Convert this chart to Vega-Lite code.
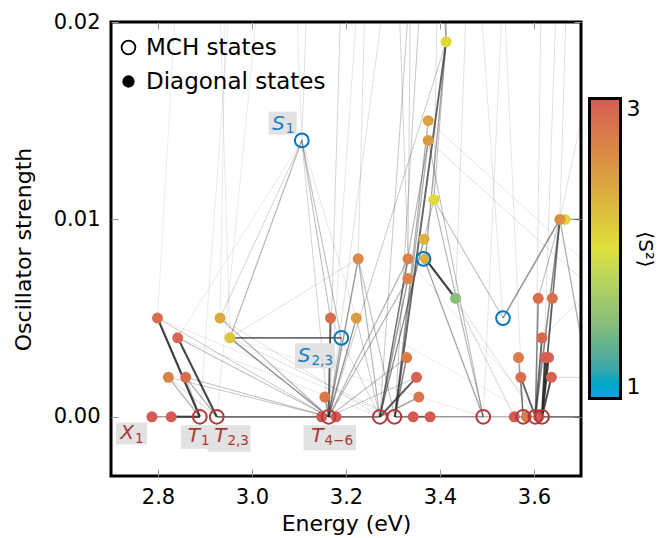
{
  "$schema": "https://vega.github.io/schema/vega-lite/v6.json",
  "width": 470,
  "height": 454,
  "autosize": {"type": "none"},
  "padding": {"left": 111, "top": 22, "right": 79, "bottom": 62},
  "background": "white",
  "config": {
    "font": "DejaVu Sans",
    "view": {"stroke": "black", "strokeWidth": 3},
    "axis": {"grid": false, "domain": false, "tickColor": "#999999", "tickWidth": 1, "tickSize": -7, "labelFontSize": 21, "labelColor": "black", "titleFontSize": 22, "titleFontWeight": "normal", "titleColor": "black", "labelFont": "DejaVu Sans", "titleFont": "DejaVu Sans"}
  },
  "datasets": {
    "edges": [
      {"E1": 2.889, "f1": 0, "E2": 2.828, "f2": 0, "c": 1.0},
      {"E1": 2.828, "f1": 0, "E2": 2.787, "f2": 0, "c": 0.5},
      {"E1": 2.889, "f1": 0, "E2": 2.799, "f2": 0.005, "c": 1.0},
      {"E1": 2.925, "f1": 0, "E2": 2.842, "f2": 0.004, "c": 0.95},
      {"E1": 2.889, "f1": 0, "E2": 2.822, "f2": 0.002, "c": 0.4},
      {"E1": 2.925, "f1": 0, "E2": 2.859, "f2": 0.002, "c": 0.4},
      {"E1": 2.925, "f1": 0, "E2": 2.822, "f2": 0.002, "c": 0.2},
      {"E1": 2.889, "f1": 0, "E2": 2.859, "f2": 0.002, "c": 0.25},
      {"E1": 2.925, "f1": 0, "E2": 3.148, "f2": 0, "c": 0.75},
      {"E1": 3.19, "f1": 0.004, "E2": 2.953, "f2": 0.004, "c": 0.75},
      {"E1": 3.163, "f1": 0, "E2": 3.167, "f2": 0.005, "c": 0.8},
      {"E1": 3.163, "f1": 0, "E2": 2.953, "f2": 0.004, "c": 0.55},
      {"E1": 3.163, "f1": 0, "E2": 2.932, "f2": 0.005, "c": 0.35},
      {"E1": 3.163, "f1": 0, "E2": 2.842, "f2": 0.004, "c": 0.3},
      {"E1": 3.163, "f1": 0, "E2": 2.799, "f2": 0.005, "c": 0.25},
      {"E1": 3.163, "f1": 0, "E2": 2.859, "f2": 0.002, "c": 0.3},
      {"E1": 3.163, "f1": 0, "E2": 2.822, "f2": 0.002, "c": 0.25},
      {"E1": 3.163, "f1": 0, "E2": 3.155, "f2": 0.001, "c": 0.5},
      {"E1": 3.106, "f1": 0.014, "E2": 2.953, "f2": 0.004, "c": 0.35},
      {"E1": 3.106, "f1": 0.014, "E2": 2.932, "f2": 0.005, "c": 0.2},
      {"E1": 3.106, "f1": 0.014, "E2": 3.167, "f2": 0.005, "c": 0.3},
      {"E1": 3.106, "f1": 0.014, "E2": 3.19, "f2": 0.004, "c": 0.3},
      {"E1": 3.106, "f1": 0.014, "E2": 3.163, "f2": 0, "c": 0.2},
      {"E1": 3.106, "f1": 0.014, "E2": 3.222, "f2": 0.005, "c": 0.12},
      {"E1": 3.106, "f1": 0.014, "E2": 2.842, "f2": 0.004, "c": 0.1},
      {"E1": 3.106, "f1": 0.014, "E2": 3.13, "f2": 0.03, "c": 0.15},
      {"E1": 3.106, "f1": 0.014, "E2": 3.08, "f2": 0.03, "c": 0.1},
      {"E1": 3.163, "f1": 0, "E2": 3.226, "f2": 0.008, "c": 0.5},
      {"E1": 3.163, "f1": 0, "E2": 3.222, "f2": 0.005, "c": 0.35},
      {"E1": 3.163, "f1": 0, "E2": 3.332, "f2": 0.008, "c": 0.35},
      {"E1": 3.163, "f1": 0, "E2": 3.332, "f2": 0.007, "c": 0.35},
      {"E1": 3.163, "f1": 0, "E2": 3.329, "f2": 0.003, "c": 0.3},
      {"E1": 3.163, "f1": 0, "E2": 3.272, "f2": 0, "c": 0.7},
      {"E1": 3.163, "f1": 0, "E2": 3.35, "f2": 0.002, "c": 0.25},
      {"E1": 3.163, "f1": 0, "E2": 3.413, "f2": 0.019, "c": 0.25},
      {"E1": 3.163, "f1": 0, "E2": 3.2, "f2": 0.03, "c": 0.2},
      {"E1": 3.163, "f1": 0, "E2": 3.25, "f2": 0.03, "c": 0.12},
      {"E1": 3.19, "f1": 0.004, "E2": 3.163, "f2": 0, "c": 0.4},
      {"E1": 3.272, "f1": 0, "E2": 3.35, "f2": 0.002, "c": 0.85},
      {"E1": 3.272, "f1": 0, "E2": 3.355, "f2": 0.001, "c": 0.5},
      {"E1": 3.304, "f1": 0, "E2": 3.329, "f2": 0.003, "c": 0.6},
      {"E1": 3.304, "f1": 0, "E2": 3.343, "f2": 0, "c": 0.7},
      {"E1": 3.379, "f1": 0, "E2": 3.343, "f2": 0, "c": 0.8},
      {"E1": 3.272, "f1": 0, "E2": 3.332, "f2": 0.008, "c": 0.55},
      {"E1": 3.272, "f1": 0, "E2": 3.332, "f2": 0.007, "c": 0.5},
      {"E1": 3.304, "f1": 0, "E2": 3.413, "f2": 0.019, "c": 0.8},
      {"E1": 3.272, "f1": 0, "E2": 3.366, "f2": 0.009, "c": 0.4},
      {"E1": 3.304, "f1": 0, "E2": 3.375, "f2": 0.015, "c": 0.4},
      {"E1": 3.304, "f1": 0, "E2": 3.375, "f2": 0.014, "c": 0.4},
      {"E1": 3.272, "f1": 0, "E2": 3.375, "f2": 0.014, "c": 0.35},
      {"E1": 3.272, "f1": 0, "E2": 3.387, "f2": 0.011, "c": 0.3},
      {"E1": 3.272, "f1": 0, "E2": 2.932, "f2": 0.005, "c": 0.15},
      {"E1": 3.304, "f1": 0, "E2": 2.953, "f2": 0.004, "c": 0.15},
      {"E1": 3.272, "f1": 0, "E2": 2.842, "f2": 0.004, "c": 0.1},
      {"E1": 3.304, "f1": 0, "E2": 2.799, "f2": 0.005, "c": 0.1},
      {"E1": 3.272, "f1": 0, "E2": 3.226, "f2": 0.008, "c": 0.35},
      {"E1": 3.304, "f1": 0, "E2": 3.226, "f2": 0.008, "c": 0.3},
      {"E1": 3.272, "f1": 0, "E2": 3.222, "f2": 0.005, "c": 0.25},
      {"E1": 3.272, "f1": 0, "E2": 3.167, "f2": 0.005, "c": 0.2},
      {"E1": 3.369, "f1": 0.008, "E2": 3.433, "f2": 0.006, "c": 1.0},
      {"E1": 3.413, "f1": 0.019, "E2": 3.369, "f2": 0.008, "c": 0.45},
      {"E1": 3.413, "f1": 0.019, "E2": 3.387, "f2": 0.011, "c": 0.3},
      {"E1": 3.413, "f1": 0.019, "E2": 3.41, "f2": 0.03, "c": 0.4},
      {"E1": 3.413, "f1": 0.019, "E2": 3.38, "f2": 0.03, "c": 0.3},
      {"E1": 3.387, "f1": 0.011, "E2": 3.492, "f2": 0, "c": 0.35},
      {"E1": 3.375, "f1": 0.014, "E2": 3.492, "f2": 0, "c": 0.3},
      {"E1": 3.366, "f1": 0.008, "E2": 3.492, "f2": 0, "c": 0.45},
      {"E1": 3.375, "f1": 0.014, "E2": 3.7, "f2": 0.007, "c": 0.15},
      {"E1": 3.375, "f1": 0.015, "E2": 3.7, "f2": 0.008, "c": 0.12},
      {"E1": 3.433, "f1": 0.006, "E2": 3.47, "f2": 0.03, "c": 0.15},
      {"E1": 3.433, "f1": 0.006, "E2": 3.558, "f2": 0, "c": 0.2},
      {"E1": 3.492, "f1": 0, "E2": 3.379, "f2": 0, "c": 0.5},
      {"E1": 3.492, "f1": 0, "E2": 3.558, "f2": 0, "c": 0.4},
      {"E1": 3.492, "f1": 0, "E2": 2.953, "f2": 0.004, "c": 0.08},
      {"E1": 3.492, "f1": 0, "E2": 3.55, "f2": 0.03, "c": 0.12},
      {"E1": 3.534, "f1": 0.005, "E2": 3.655, "f2": 0.01, "c": 0.55},
      {"E1": 3.534, "f1": 0.005, "E2": 3.387, "f2": 0.011, "c": 0.3},
      {"E1": 3.534, "f1": 0.005, "E2": 3.46, "f2": 0.03, "c": 0.12},
      {"E1": 3.603, "f1": 0, "E2": 3.572, "f2": 0.002, "c": 0.8},
      {"E1": 3.603, "f1": 0, "E2": 3.609, "f2": 0.006, "c": 0.6},
      {"E1": 3.603, "f1": 0, "E2": 3.617, "f2": 0.004, "c": 0.8},
      {"E1": 3.617, "f1": 0, "E2": 3.624, "f2": 0.003, "c": 1.0},
      {"E1": 3.617, "f1": 0, "E2": 3.631, "f2": 0.003, "c": 1.0},
      {"E1": 3.617, "f1": 0, "E2": 3.637, "f2": 0.002, "c": 0.9},
      {"E1": 3.617, "f1": 0, "E2": 3.639, "f2": 0.006, "c": 0.6},
      {"E1": 3.577, "f1": 0, "E2": 3.567, "f2": 0.003, "c": 0.5},
      {"E1": 3.577, "f1": 0, "E2": 3.572, "f2": 0.002, "c": 0.4},
      {"E1": 3.603, "f1": 0, "E2": 3.655, "f2": 0.01, "c": 0.6},
      {"E1": 3.617, "f1": 0, "E2": 3.655, "f2": 0.01, "c": 0.6},
      {"E1": 3.617, "f1": 0, "E2": 3.7, "f2": 0, "c": 0.7},
      {"E1": 3.558, "f1": 0, "E2": 3.603, "f2": 0, "c": 0.5},
      {"E1": 3.655, "f1": 0.01, "E2": 3.7, "f2": 0.004, "c": 0.4},
      {"E1": 3.655, "f1": 0.01, "E2": 3.7, "f2": 0.01, "c": 0.5},
      {"E1": 3.603, "f1": 0, "E2": 3.433, "f2": 0.006, "c": 0.15},
      {"E1": 3.603, "f1": 0, "E2": 3.222, "f2": 0.005, "c": 0.08},
      {"E1": 3.617, "f1": 0, "E2": 3.332, "f2": 0.008, "c": 0.1},
      {"E1": 3.603, "f1": 0, "E2": 3.62, "f2": 0.03, "c": 0.15},
      {"E1": 3.617, "f1": 0, "E2": 3.66, "f2": 0.03, "c": 0.15},
      {"E1": 3.655, "f1": 0.01, "E2": 3.68, "f2": 0.03, "c": 0.15},
      {"E1": 3.577, "f1": 0, "E2": 3.52, "f2": 0.03, "c": 0.12},
      {"E1": 2.889, "f1": 0, "E2": 2.98, "f2": 0.03, "c": 0.1},
      {"E1": 2.925, "f1": 0, "E2": 3.05, "f2": 0.03, "c": 0.1},
      {"E1": 2.953, "f1": 0.004, "E2": 2.92, "f2": 0.03, "c": 0.1},
      {"E1": 2.799, "f1": 0.005, "E2": 2.86, "f2": 0.03, "c": 0.08},
      {"E1": 3.226, "f1": 0.008, "E2": 3.25, "f2": 0.03, "c": 0.15},
      {"E1": 3.332, "f1": 0.008, "E2": 3.34, "f2": 0.03, "c": 0.2},
      {"E1": 3.332, "f1": 0.008, "E2": 3.3, "f2": 0.03, "c": 0.2},
      {"E1": 3.387, "f1": 0.011, "E2": 3.4, "f2": 0.03, "c": 0.15},
      {"E1": 3.272, "f1": 0, "E2": 3.36, "f2": 0.03, "c": 0.25},
      {"E1": 3.304, "f1": 0, "E2": 3.38, "f2": 0.03, "c": 0.25},
      {"E1": 3.163, "f1": 0, "E2": 3.33, "f2": 0.03, "c": 0.15},
      {"E1": 3.222, "f1": 0.005, "E2": 3.163, "f2": 0, "c": 0.3},
      {"E1": 3.226, "f1": 0.008, "E2": 2.953, "f2": 0.004, "c": 0.15},
      {"E1": 2.932, "f1": 0.005, "E2": 2.95, "f2": 0.03, "c": 0.1},
      {"E1": 3.7, "f1": 0.015, "E2": 3.655, "f2": 0.01, "c": 0.15},
      {"E1": 3.609, "f1": 0.006, "E2": 3.655, "f2": 0.01, "c": 0.3},
      {"E1": 3.639, "f1": 0.006, "E2": 3.655, "f2": 0.01, "c": 0.3},
      {"E1": 3.617, "f1": 0.004, "E2": 3.7, "f2": 0.006, "c": 0.15},
      {"E1": 3.637, "f1": 0.002, "E2": 3.7, "f2": 0.002, "c": 0.2}
    ],
    "diag": [
      {"E": 2.787, "f": 0, "s2": 3.0},
      {"E": 2.828, "f": 0, "s2": 3.0},
      {"E": 2.799, "f": 0.005, "s2": 2.85},
      {"E": 2.842, "f": 0.004, "s2": 2.9},
      {"E": 2.822, "f": 0.002, "s2": 2.7},
      {"E": 2.859, "f": 0.002, "s2": 2.85},
      {"E": 2.932, "f": 0.005, "s2": 2.4},
      {"E": 2.953, "f": 0.004, "s2": 2.2},
      {"E": 3.167, "f": 0.005, "s2": 2.85},
      {"E": 3.155, "f": 0.001, "s2": 2.8},
      {"E": 3.148, "f": 0, "s2": 3.0},
      {"E": 3.179, "f": 0, "s2": 3.0},
      {"E": 3.226, "f": 0.008, "s2": 2.65},
      {"E": 3.222, "f": 0.005, "s2": 2.5},
      {"E": 3.332, "f": 0.008, "s2": 2.7},
      {"E": 3.332, "f": 0.007, "s2": 2.7},
      {"E": 3.329, "f": 0.003, "s2": 2.75},
      {"E": 3.35, "f": 0.002, "s2": 2.95},
      {"E": 3.355, "f": 0.001, "s2": 2.8},
      {"E": 3.343, "f": 0, "s2": 3.0},
      {"E": 3.379, "f": 0, "s2": 3.0},
      {"E": 3.366, "f": 0.009, "s2": 2.35},
      {"E": 3.369, "f": 0.008, "s2": 2.35},
      {"E": 3.433, "f": 0.006, "s2": 1.5},
      {"E": 3.375, "f": 0.015, "s2": 2.45},
      {"E": 3.375, "f": 0.014, "s2": 2.5},
      {"E": 3.387, "f": 0.011, "s2": 2.05},
      {"E": 3.413, "f": 0.019, "s2": 2.05},
      {"E": 3.666, "f": 0.01, "s2": 2.1},
      {"E": 3.655, "f": 0.01, "s2": 2.6},
      {"E": 3.609, "f": 0.006, "s2": 2.85},
      {"E": 3.639, "f": 0.006, "s2": 2.85},
      {"E": 3.617, "f": 0.004, "s2": 2.9},
      {"E": 3.567, "f": 0.003, "s2": 2.75},
      {"E": 3.624, "f": 0.003, "s2": 2.95},
      {"E": 3.631, "f": 0.003, "s2": 2.95},
      {"E": 3.572, "f": 0.002, "s2": 2.85},
      {"E": 3.637, "f": 0.002, "s2": 2.95},
      {"E": 3.558, "f": 0, "s2": 3.0},
      {"E": 3.61, "f": 0, "s2": 3.0},
      {"E": 3.584, "f": 0, "s2": 2.75}
    ],
    "mch": [
      {"E": 2.889, "f": 0, "s2": 3, "kind": "MCH states"},
      {"E": 2.925, "f": 0, "s2": 3, "kind": "MCH states"},
      {"E": 3.163, "f": 0, "s2": 3, "kind": "MCH states"},
      {"E": 3.272, "f": 0, "s2": 3, "kind": "MCH states"},
      {"E": 3.303, "f": 0, "s2": 3, "kind": "MCH states"},
      {"E": 3.492, "f": 0, "s2": 3, "kind": "MCH states"},
      {"E": 3.577, "f": 0, "s2": 3, "kind": "MCH states"},
      {"E": 3.603, "f": 0, "s2": 3, "kind": "MCH states"},
      {"E": 3.617, "f": 0, "s2": 3, "kind": "MCH states"},
      {"E": 3.106, "f": 0.014, "s2": 1, "kind": "MCH states"},
      {"E": 3.19, "f": 0.004, "s2": 1, "kind": "MCH states"},
      {"E": 3.365, "f": 0.008, "s2": 1, "kind": "MCH states"},
      {"E": 3.534, "f": 0.005, "s2": 1, "kind": "MCH states"}
    ],
    "labels": [
      {"letter": "X", "sub": "1", "E": 2.749, "f": -0.00115, "grp": "T", "box": "X1"},
      {"letter": "T", "sub": "1", "E": 2.8894, "f": -0.00127, "grp": "T", "box": "T1"},
      {"letter": "T", "sub": "2,3", "E": 2.9457, "f": -0.00127, "grp": "T", "box": "T23"},
      {"letter": "T", "sub": "4−6", "E": 3.1521, "f": -0.00127, "grp": "T", "box": "T46"},
      {"letter": "S", "sub": "1", "E": 3.0695, "f": 0.01455, "grp": "S", "box": "S1"},
      {"letter": "S", "sub": "2,3", "E": 3.1245, "f": 0.00279, "grp": "S", "box": "S23"}
    ]
  },
  "resolve": {"scale": {"shape": "independent"}, "axis": {"x": "independent", "y": "independent"}},
  "layer": [
    {
      "data": {"name": "edges"},
      "mark": {"type": "rule", "clip": true, "color": "#2a2a2a"},
      "encoding": {
        "x": {"field": "E1", "type": "quantitative", "scale": {"domain": [2.7, 3.7], "nice": false, "zero": false},
              "axis": {"orient": "bottom", "values": [2.8, 3.0, 3.2, 3.4, 3.6], "format": ".1f", "title": "Energy (eV)", "labelPadding": 17, "titlePadding": 6}},
        "y": {"field": "f1", "type": "quantitative", "scale": {"domain": [-0.003, 0.02], "nice": false, "zero": false},
              "axis": {"orient": "left", "values": [0, 0.01, 0.02], "format": ".2f", "title": "Oscillator strength", "labelPadding": 18, "titlePadding": 18}},
        "x2": {"field": "E2"},
        "y2": {"field": "f2"},
        "opacity": {"field": "c", "type": "quantitative", "scale": {"domain": [0, 1], "range": [0.05, 0.9]}, "legend": null},
        "strokeWidth": {"field": "c", "type": "quantitative", "scale": {"domain": [0, 1], "range": [0.6, 2.2]}, "legend": null}
      }
    },
    {
      "data": {"name": "diag"},
      "mark": {"type": "point", "filled": true, "shape": "circle", "size": 121, "opacity": 1, "strokeWidth": 0},
      "encoding": {
        "x": {"field": "E", "type": "quantitative", "scale": {"domain": [2.7, 3.7], "nice": false, "zero": false},
              "axis": {"orient": "top", "values": [2.8, 3.0, 3.2, 3.4, 3.6], "labels": false, "title": null}},
        "y": {"field": "f", "type": "quantitative", "scale": {"domain": [-0.003, 0.02], "nice": false, "zero": false},
              "axis": {"orient": "right", "values": [0, 0.01, 0.02], "labels": false, "title": null}},
        "fill": {"field": "s2", "type": "quantitative",
                 "scale": {"domain": [1, 1.25, 1.5, 1.75, 2, 2.25, 2.5, 2.75, 3],
                           "range": ["#1aa0e5", "#52a89c", "#88bd7a", "#b4d062", "#dfe03b", "#dcbd3c", "#da9c42", "#d97c4a", "#d55a55"]},
                 "legend": {"orient": "none", "legendX": 478.5, "legendY": 76.5, "direction": "vertical", "gradientLength": 300, "gradientThickness": 31,
                            "gradientStrokeColor": "black", "gradientStrokeWidth": 3, "values": [1, 3], "format": "d", "labelFontSize": 22, "labelOffset": 6,
                            "labelColor": "black", "labelFont": "DejaVu Sans", "title": "⟨S²⟩", "titleOrient": "right", "titleAngle": 270,
                            "titleFontSize": 20, "titleFontWeight": "normal", "titleFont": "DejaVu Sans", "titleColor": "black",
                            "titleAnchor": "middle", "titleBaseline": "top", "titlePadding": 14, "padding": 0}}
      }
    },
    {
      "data": {"name": "mch"},
      "mark": {"type": "point", "filled": false, "size": 190, "strokeWidth": 2, "opacity": 1},
      "encoding": {
        "x": {"field": "E", "type": "quantitative", "scale": {"domain": [2.7, 3.7], "nice": false, "zero": false}, "axis": null},
        "y": {"field": "f", "type": "quantitative", "scale": {"domain": [-0.003, 0.02], "nice": false, "zero": false}, "axis": null},
        "stroke": {"field": "s2", "type": "quantitative", "scale": {"domain": [1, 3], "range": ["#0a78be", "#b33a3a"]}, "legend": null},
        "shape": {"field": "kind", "type": "nominal", "scale": {"domain": ["MCH states", "Diagonal states"], "range": ["circle", "circle"]},
                  "legend": {"orient": "none", "legendX": 6, "legendY": 14, "title": null, "labelFontSize": 23, "labelColor": "black", "labelFont": "DejaVu Sans",
                             "labelLimit": 400, "rowPadding": 10, "symbolSize": 190, "symbolStrokeWidth": 1.8, "padding": 0, "labelOffset": 6,
                             "encoding": {"symbols": {
                               "fill": {"value": {"expr": "datum.value === 'MCH states' ? 'transparent' : 'black'"}},
                               "stroke": {"value": "black"},
                               "size": {"value": {"expr": "datum.value === 'MCH states' ? 190 : 110"}},
                               "opacity": {"value": 1}}}}}
      }
    },
    {
      "data": {"name": "labels"},
      "mark": {"type": "point", "filled": true, "size": 4, "opacity": 1, "color": "#e2e2e2", "strokeWidth": 0},
      "encoding": {
        "x": {"field": "E", "type": "quantitative", "scale": {"domain": [2.7, 3.7], "nice": false, "zero": false}, "axis": null},
        "y": {"field": "f", "type": "quantitative", "scale": {"domain": [-0.003, 0.02], "nice": false, "zero": false}, "axis": null},
        "shape": {"field": "box", "type": "nominal",
                  "scale": {"domain": ["X1", "T1", "T23", "T46", "S1", "S23"],
                            "range": ["M-18,-17H13V5H-18Z", "M-19,-16.5H10V7H-19Z", "M-19,-16.5H24V10H-19Z", "M-20,-16.5H32.5V8.5H-20Z", "M-16,-18H12V5H-16Z", "M-15.5,-18.5H24.5V6.5H-15.5Z"]},
                  "legend": null}
      }
    },
    {
      "data": {"name": "labels"},
      "mark": {"type": "text", "align": "right", "baseline": "alphabetic", "fontSize": 20, "fontStyle": "italic", "font": "DejaVu Sans"},
      "encoding": {
        "x": {"field": "E", "type": "quantitative", "scale": {"domain": [2.7, 3.7], "nice": false, "zero": false}, "axis": null},
        "y": {"field": "f", "type": "quantitative", "scale": {"domain": [-0.003, 0.02], "nice": false, "zero": false}, "axis": null},
        "text": {"field": "letter"},
        "color": {"field": "grp", "type": "nominal", "scale": {"domain": ["T", "S"], "range": ["#a8393b", "#1a7dc0"]}, "legend": null}
      }
    },
    {
      "data": {"name": "labels"},
      "mark": {"type": "text", "align": "left", "baseline": "alphabetic", "fontSize": 13.5, "font": "DejaVu Sans", "dx": 1, "dy": 3.5},
      "encoding": {
        "x": {"field": "E", "type": "quantitative", "scale": {"domain": [2.7, 3.7], "nice": false, "zero": false}, "axis": null},
        "y": {"field": "f", "type": "quantitative", "scale": {"domain": [-0.003, 0.02], "nice": false, "zero": false}, "axis": null},
        "text": {"field": "sub"},
        "color": {"field": "grp", "type": "nominal", "scale": {"domain": ["T", "S"], "range": ["#a8393b", "#1a7dc0"]}, "legend": null}
      }
    }
  ]
}
